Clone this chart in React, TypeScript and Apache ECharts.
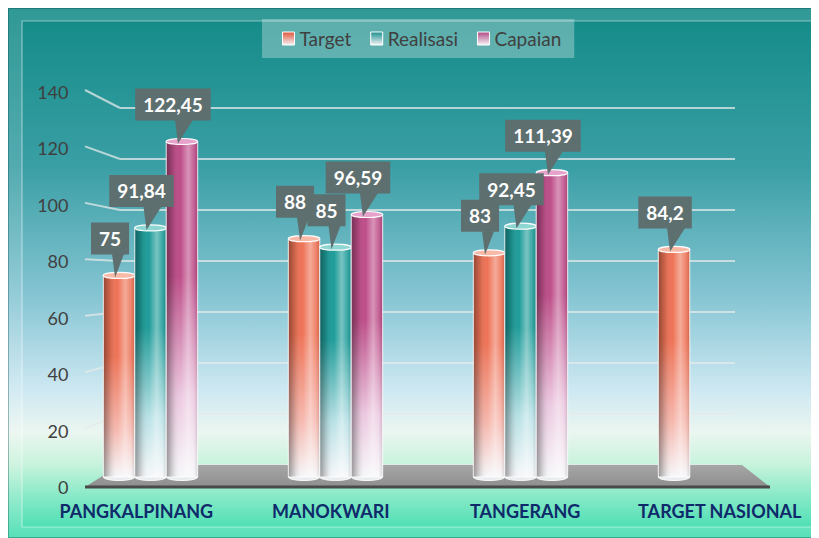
import { useEffect, useRef } from 'react';
import * as echarts from 'echarts';

const categories = ['PANGKALPINANG', 'MANOKWARI', 'TANGERANG', 'TARGET NASIONAL'];
const seriesNames = ['Target', 'Realisasi', 'Capaian'];
const targetValues: (number | null)[] = [75, 88, 83, 84.2];
const realisasiValues: (number | null)[] = [91.84, 85, 92.45, null];
const capaianValues: (number | null)[] = [122.45, 96.59, 111.39, null];
const yMin = 0;
const yMax = 140;
const yStep = 20;

const allValues = [targetValues, realisasiValues, capaianValues];

const palettes = [
  { base: '#ee7356', light: '#f6b8ae', cap: '#f8b9a6', legend: '#e0553a' },
  { base: '#1e9c99', light: '#b8e1e6', cap: '#8ed6d2', legend: '#1b8f8c' },
  { base: '#bd4d88', light: '#ecc8e0', cap: '#e6a2cb', legend: '#b04a82' },
];

const FONT = 'Lato, "Open Sans", sans-serif';
const CALLOUT = '#5e6f6f';

function fmt(v: number) {
  return String(v).replace('.', ',');
}

function makeRender(s: number) {
  return (_params: any, api: any) => {
    const idx = api.value(0);
    const v = api.value(1);
    if (v == null || isNaN(v)) return null;
    const band = api.size([1, 0])[0];
    const w = band * 0.17;
    const top = api.coord([idx, v]);
    const zero = api.coord([idx, 0]);
    const cx = top[0] + (s - 1) * w;
    const x0 = cx - w / 2;
    const yTop = top[1];
    const yBot = zero[1] - 10;
    const p = palettes[s];
    const boxBottom = yTop - 21;
    const boxCx = cx - 9;
    const tipX = cx - 4;
    const tipY = yTop + 2;
    const label = fmt(v);
    const triW = Math.min(18, 6 + label.length * 3);
    const body = { x: x0, y: yTop, width: w, height: yBot - yTop };
    return {
      type: 'group',
      children: [
        {
          type: 'ellipse',
          shape: { cx, cy: yBot, rx: w / 2, ry: 3.5 },
          style: { fill: '#e8ecef', stroke: 'rgba(255,255,255,0.9)', lineWidth: 1 },
        },
        {
          type: 'rect',
          shape: body,
          style: {
            fill: new echarts.graphic.LinearGradient(0, 0, 0, 1, [
              { offset: 0, color: p.base },
              { offset: 0.4, color: p.base },
              { offset: 0.76, color: p.light },
              { offset: 1, color: '#f6f7f9' },
            ]),
          },
        },
        {
          type: 'rect',
          shape: body,
          style: {
            fill: new echarts.graphic.LinearGradient(0, 0, 1, 0, [
              { offset: 0, color: 'rgba(0,0,0,0.38)' },
              { offset: 0.2, color: 'rgba(0,0,0,0.14)' },
              { offset: 0.45, color: 'rgba(255,255,255,0)' },
              { offset: 0.7, color: 'rgba(255,255,255,0.4)' },
              { offset: 0.88, color: 'rgba(255,255,255,0.12)' },
              { offset: 1, color: 'rgba(0,0,0,0.12)' },
            ]),
            stroke: 'rgba(255,255,255,0.85)',
            lineWidth: 1,
          },
        },
        {
          type: 'ellipse',
          shape: { cx, cy: yTop, rx: w / 2, ry: 3 },
          style: { fill: p.cap, stroke: 'rgba(255,255,255,0.95)', lineWidth: 1.2 },
        },
        {
          type: 'polygon',
          z2: 100,
          shape: {
            points: [
              [boxCx + 2, boxBottom - 0.5],
              [boxCx + 2 + triW, boxBottom - 0.5],
              [tipX, tipY],
            ],
          },
          style: { fill: CALLOUT },
        },
        {
          type: 'text',
          z2: 101,
          x: boxCx,
          y: boxBottom,
          style: {
            text: label,
            fill: '#ffffff',
            font: `bold 19px ${FONT}`,
            align: 'center',
            verticalAlign: 'bottom',
            backgroundColor: CALLOUT,
            padding: [6, 8, 6, 8],
            lineHeight: 20,
          },
        },
      ],
    };
  };
}

export default function App() {
  const ref = useRef<HTMLDivElement>(null);

  useEffect(() => {
    if (!ref.current) return;
    const chart = echarts.init(ref.current, undefined, { renderer: 'svg' });

    const frame = [
      { type: 'rect', z: 0, shape: { x: 0, y: 0, width: 811, height: 13 }, style: { fill: 'rgba(255,255,255,0.13)' } },
      { type: 'rect', z: 0, shape: { x: 0, y: 519, width: 811, height: 11 }, style: { fill: 'rgba(255,255,255,0.13)' } },
      { type: 'rect', z: 0, shape: { x: 0, y: 13, width: 14, height: 506 }, style: { fill: 'rgba(255,255,255,0.13)' } },
      { type: 'rect', z: 0, shape: { x: 804, y: 13, width: 7, height: 506 }, style: { fill: 'rgba(255,255,255,0.13)' } },
      { type: 'rect', z: 0, shape: { x: 14, y: 13, width: 790, height: 506 }, style: { fill: 'none', stroke: 'rgba(255,255,255,0.45)', lineWidth: 1.2 } },
      { type: 'rect', z: 0, shape: { x: 0.5, y: 0.5, width: 810, height: 529 }, style: { fill: 'none', stroke: 'rgba(0,70,70,0.35)', lineWidth: 1 } },
    ];

    const option: any = {
      animation: false,
      backgroundColor: new echarts.graphic.LinearGradient(0, 0, 0, 1, [
        { offset: 0, color: '#128a86' },
        { offset: 0.3, color: '#3a9fa5' },
        { offset: 0.55, color: '#88c6d4' },
        { offset: 0.72, color: '#cde8f2' },
        { offset: 0.8, color: '#ebf6f0' },
        { offset: 0.86, color: '#c8f3dc' },
        { offset: 0.93, color: '#7ee8c4' },
        { offset: 1, color: '#3ddcae' },
      ]),
      legend: {
        left: 254,
        top: 11,
        padding: [10, 13, 10, 20],
        itemGap: 19,
        itemWidth: 12,
        itemHeight: 13,
        backgroundColor: 'rgba(255,255,255,0.3)',
        textStyle: { fontFamily: FONT, fontSize: 19, color: '#404040' },
        data: seriesNames.map((n, s) => ({
          name: n,
          icon: 'rect',
          itemStyle: {
            color: new echarts.graphic.LinearGradient(0, 0, 0, 1, [
              { offset: 0, color: palettes[s].legend },
              { offset: 1, color: '#f4f4f8' },
            ]),
            borderColor: '#ffffff',
            borderWidth: 1,
          },
        })),
      },
      grid: [
        { left: 50, right: 21, top: 84, bottom: 51 },
        { left: 112, right: 84, top: 100, bottom: 73 },
        { left: 31, right: 2, top: 84, bottom: 51 },
      ],
      xAxis: [
        { gridIndex: 0, type: 'category', data: categories, show: false },
        { gridIndex: 1, type: 'value', show: false },
        {
          gridIndex: 2,
          type: 'category',
          data: categories,
          axisLine: { show: false },
          axisTick: { show: false },
          axisLabel: { margin: 15, fontFamily: FONT, fontWeight: 'bold', fontSize: 18, color: '#0f2a6a', interval: 0 },
        },
      ],
      yAxis: [
        {
          gridIndex: 0,
          type: 'value',
          min: yMin,
          max: yMax,
          interval: yStep,
          axisLine: { show: false },
          axisTick: { show: false },
          splitLine: { show: false },
          axisLabel: { margin: -10.5, fontFamily: FONT, fontSize: 18, color: '#404040' },
        },
        {
          gridIndex: 1,
          type: 'value',
          min: yMin,
          max: yMax,
          interval: yStep,
          axisLine: { show: false },
          axisTick: { show: false },
          axisLabel: { show: false },
          splitLine: { show: true, lineStyle: { color: 'rgba(228,234,234,0.75)', width: 2 } },
        },
        { gridIndex: 2, type: 'value', show: false },
      ],
      graphic: { elements: frame },
      series: seriesNames.map((name, s) => ({
        name,
        type: 'custom',
        xAxisIndex: 0,
        yAxisIndex: 0,
        itemStyle: { color: palettes[s].legend },
        renderItem: makeRender(s),
        encode: { x: 0, y: 1 },
        data: allValues[s]
          .map((v, i) => (v == null ? null : [i, v]))
          .filter((d) => d != null),
      })),
    };

    chart.setOption(option);

    // 3D-like decoration: floor and wall connectors, derived from axis scales
    const frontX = 77;
    const frontRightX = 762;
    const backLeft = 112;
    const backRight = 811 - 84;
    const yF0 = chart.convertToPixel({ yAxisIndex: 0 } as any, 0) as number;
    const yB0 = chart.convertToPixel({ yAxisIndex: 1 } as any, 0) as number;
    const deco: any[] = [];
    for (let v = yMin + yStep; v <= yMax; v += yStep) {
      const yf = chart.convertToPixel({ yAxisIndex: 0 } as any, v) as number;
      const yb = chart.convertToPixel({ yAxisIndex: 1 } as any, v) as number;
      deco.push({
        type: 'line',
        z: 1,
        shape: { x1: frontX, y1: yf - 2, x2: backLeft, y2: yb },
        style: { stroke: 'rgba(228,234,234,0.75)', lineWidth: 2 },
      });
    }
    deco.push({
      type: 'polygon',
      z: 1,
      shape: {
        points: [
          [frontX, yF0],
          [frontRightX, yF0],
          [backRight + 7, yB0],
          [backLeft, yB0],
        ],
      },
      style: {
        fill: new echarts.graphic.LinearGradient(0, 0, 0, 1, [
          { offset: 0, color: '#a6a6a6' },
          { offset: 1, color: '#8e8e8e' },
        ]),
      },
    });
    deco.push({
      type: 'line',
      z: 1,
      shape: { x1: frontX, y1: yF0, x2: frontRightX, y2: yF0 },
      style: { stroke: '#4a4a4a', lineWidth: 3 },
    });
    chart.setOption({ graphic: { elements: [...frame, ...deco] } });

    return () => chart.dispose();
  }, []);

  return <div ref={ref} style={{ width: 811, height: 530 }} />;
}
